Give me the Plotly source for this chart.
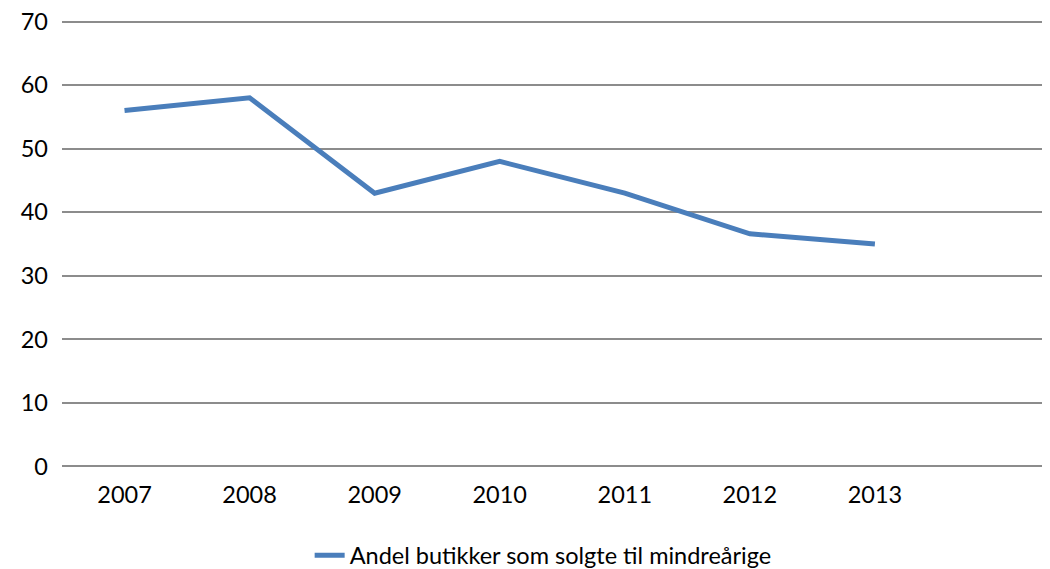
import plotly.graph_objects as go

years = ["2007", "2008", "2009", "2010", "2011", "2012", "2013"]
andel = [56, 58, 43, 48, 43, 36.6, 35]
series_name = "Andel butikker som solgte til mindreårige"
y_ticks = [0, 10, 20, 30, 40, 50, 60, 70]

fig = go.Figure()
fig.add_trace(go.Scatter(
    x=years, y=andel, mode="lines", name=series_name,
    line=dict(color="#4A7EBB", width=5),
))

font = dict(family="Lato, Open Sans, sans-serif", size=23.5, color="#000000")
fig.update_layout(
    width=1050, height=569,
    margin=dict(l=54, r=8, t=12.4, b=109.4, autoexpand=False),
    paper_bgcolor="white", plot_bgcolor="white",
    font=font,
    showlegend=True,
    legend=dict(orientation="h", x=0.487, xanchor="center", y=-0.195, yanchor="middle",
                font=font),
    xaxis=dict(type="category", range=[-0.5, 7.4], showgrid=False, showline=False,
               ticks="", tickfont=font, zeroline=False, ticklabelstandoff=10,
               ticklabeloverflow="allow"),
    yaxis=dict(range=[-0.25, 70.25], tickvals=y_ticks, showgrid=True, gridcolor="#8C8C8C",
               gridwidth=1.5, zeroline=False, showline=False, ticks="",
               ticklabelstandoff=13, tickfont=font, ticklabeloverflow="allow"),
)
fig.write_html("out.html")
